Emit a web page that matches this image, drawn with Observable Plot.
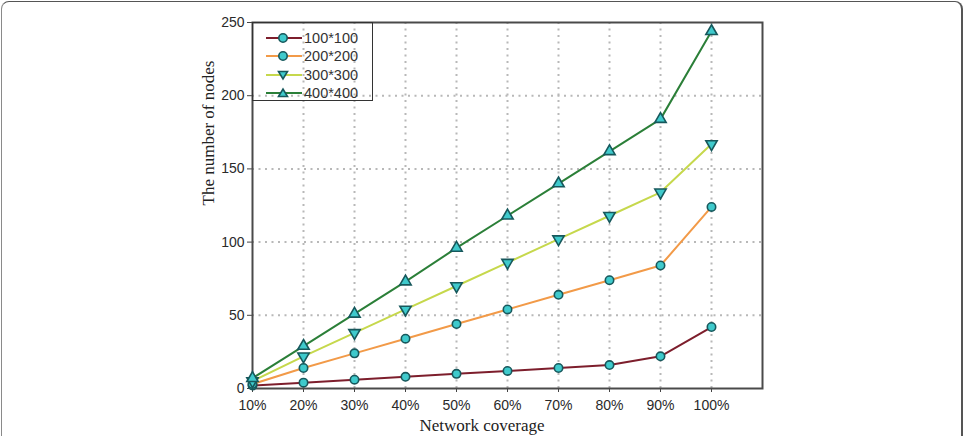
<!DOCTYPE html>
<html>
<head>
<meta charset="utf-8">
<script src="https://cdn.jsdelivr.net/npm/d3@7"></script>
<script src="https://cdn.jsdelivr.net/npm/@observablehq/plot@0.6"></script>
<style>
  html, body { margin: 0; padding: 0; background: #fff; overflow: hidden; width: 965px; height: 436px; }
  #wrap { position: relative; width: 965px; height: 436px; }
  #border { position: absolute; left: 1px; top: 1px; height: 470px; border: 1.5px solid #8a8a8a; border-right: 2.5px solid #555; border-top-color: #555; border-radius: 8px; box-sizing: border-box; width: 962px; }
  #chart { position: absolute; left: 0; top: 0; }
  #legend { position: absolute; left: 252px; top: 22px; width: 121px; height: 79px; border: 1.5px solid #333; box-sizing: border-box; font-family: "Liberation Sans", Arial, sans-serif; font-size: 14.5px; color: #333; padding-top: 6px; }
  #legend .row { display: flex; align-items: center; height: 18.3px; padding-left: 13px; }
  #legend svg { margin-right: 2px; }
</style>
</head>
<body>
<div id="wrap">
  <div id="border"></div>
  <div id="chart"></div>
  <div id="legend"></div>
</div>
<script>
const coverage = [10, 20, 30, 40, 50, 60, 70, 80, 90, 100];
const xTicks = [10, 20, 30, 40, 50, 60, 70, 80, 90, 100];
const yTicks = [0, 50, 100, 150, 200, 250];
const seriesNames = ["100*100", "200*200", "300*300", "400*400"];
const s100 = [2, 4, 6, 8, 10, 12, 14, 16, 22, 42];
const s200 = [3, 14, 24, 34, 44, 54, 64, 74, 84, 124];
const s300 = [5, 22, 38, 54, 70, 86, 102, 118, 134, 167];
const s400 = [7, 29, 51, 73, 96, 118, 140, 162, 184, 244];
const lineColors = ["#7d1e2c", "#f29a48", "#c6d84c", "#2b7f38"];
const symbols = ["circle", "circle", "triangle", "triangle"];
const rotations = [0, 0, 180, 0];
const xLabel = "Network coverage";
const yLabel = "The number of nodes";

const allSeries = [s100, s200, s300, s400];
const data = [];
allSeries.forEach((vals, i) => vals.forEach((v, j) => data.push({series: seriesNames[i], idx: i, x: coverage[j], y: v})));

const markFill = "#3fcacc";
const markStroke = "#17585c";

const marks = [
  Plot.ruleX(xTicks.slice(1), {y1: 0, y2: 250, stroke: "#b8b8b8", strokeWidth: 2, strokeDasharray: "2,4.5"}),
  Plot.ruleY(yTicks.slice(1, -1), {x1: 10, x2: 110, stroke: "#b8b8b8", strokeWidth: 2, strokeDasharray: "2,4.5"}),
  Plot.axisX({ticks: xTicks, tickFormat: d => d + "%", tickSize: 4, tickPadding: 8, label: null, fontSize: 14, fontWeight: 500, fill: "#2a2a2a", stroke: "#444"}),
  Plot.axisY({ticks: yTicks, tickSize: 5, tickPadding: 3, label: null, fontSize: 14, fontWeight: 500, fill: "#2a2a2a", stroke: "#444"}),
  Plot.frame({stroke: "#4a4a4a", strokeWidth: 2})
];
seriesNames.forEach((name, i) => {
  const d = data.filter(r => r.idx === i);
  marks.push(Plot.line(d, {x: "x", y: "y", stroke: lineColors[i], strokeWidth: 2}));
});
seriesNames.forEach((name, i) => {
  const d = data.filter(r => r.idx === i);
  marks.push(Plot.dot(d, {x: "x", y: "y", symbol: symbols[i], rotate: rotations[i], r: symbols[i] === "circle" ? 4.2 : 4.2, fill: markFill, stroke: markStroke, strokeWidth: 1.6}));
});
marks.push(Plot.text([xLabel], {x: 55, frameAnchor: "bottom", dy: 42, text: d => d, fontFamily: "Liberation Serif, Times New Roman, serif", fontSize: 17, fill: "#222"}));
marks.push(Plot.text([yLabel], {y: 125, frameAnchor: "left", dx: -44, rotate: -90, text: d => d, fontFamily: "Liberation Serif, Times New Roman, serif", fontSize: 17, fill: "#222"}));

const chart = Plot.plot({
  width: 965,
  height: 436,
  marginLeft: 252,
  marginRight: 203,
  marginTop: 22,
  marginBottom: 48,
  style: {fontFamily: "Liberation Sans, Arial, sans-serif", background: "transparent", overflow: "visible"},
  x: {type: "linear", domain: [10, 110]},
  y: {domain: [0, 250]},
  marks
});
document.getElementById("chart").appendChild(chart);

const legend = document.getElementById("legend");
seriesNames.forEach((name, i) => {
  const row = document.createElement("div");
  row.className = "row";
  const sym = symbols[i] === "circle"
    ? `<circle cx="17" cy="7" r="4.2" fill="${markFill}" stroke="${markStroke}" stroke-width="1.6"/>`
    : (rotations[i] === 180
      ? `<path d="M12.5,3.5 L21.5,3.5 L17,11 Z" fill="${markFill}" stroke="${markStroke}" stroke-width="1.6"/>`
      : `<path d="M12.5,10.5 L21.5,10.5 L17,3 Z" fill="${markFill}" stroke="${markStroke}" stroke-width="1.6"/>`);
  row.innerHTML = `<svg width="36" height="14"><line x1="0" y1="7" x2="36" y2="7" stroke="${lineColors[i]}" stroke-width="2"/>${sym}</svg><span>${name}</span>`;
  legend.appendChild(row);
});
</script>
</body>
</html>
